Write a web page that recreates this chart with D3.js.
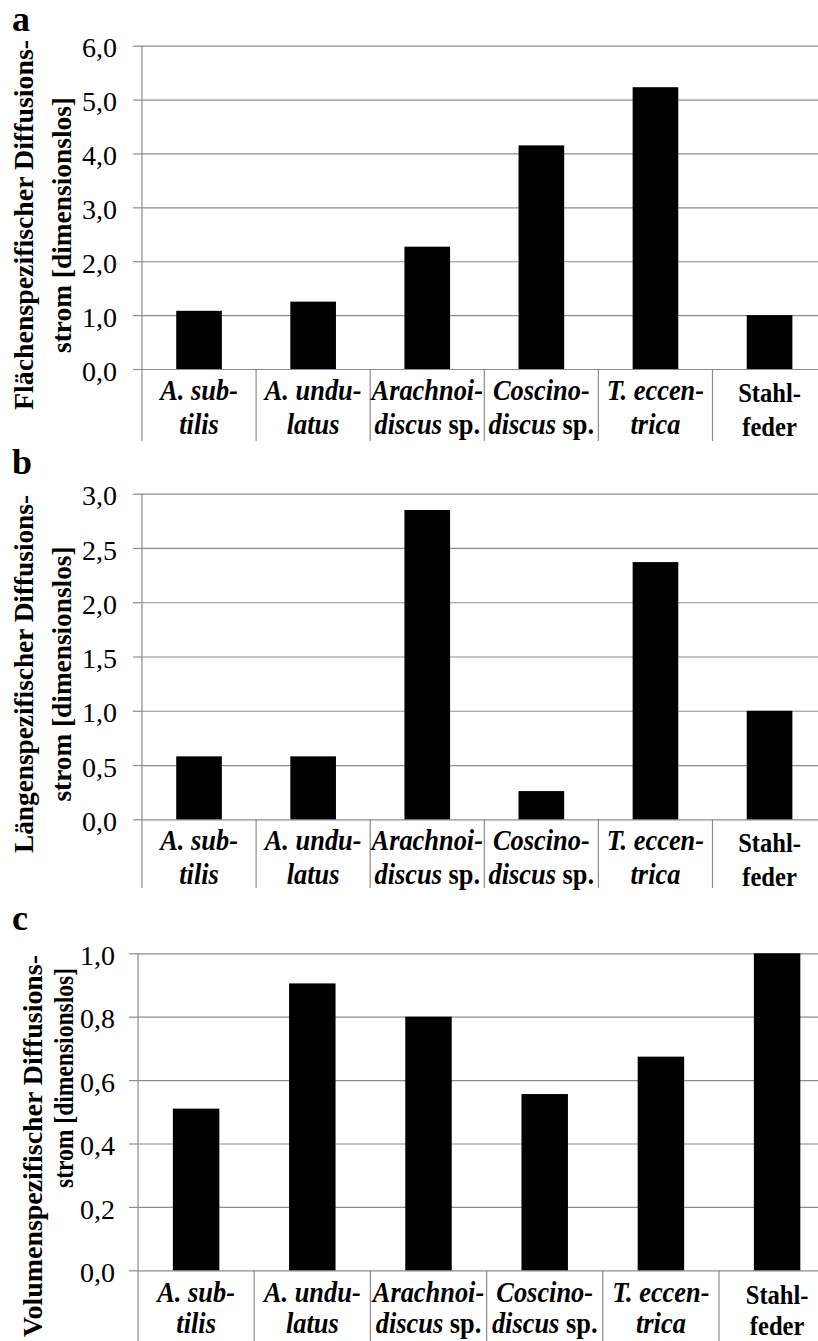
<!DOCTYPE html>
<html>
<head>
<meta charset="utf-8">
<script src="https://cdn.jsdelivr.net/npm/d3@7"></script>
<style>
  body { margin: 0; background: #fff; }
  svg { display: block; }
  text { font-family: "Liberation Serif", "Times New Roman", Times, serif; }
</style>
</head>
<body>
<svg id="chart" width="818" height="1341"></svg>
<script>
// Category labels, two lines each; every part is [text, italic]
const categoryLines = [
  [[["A. sub-", true]], [["tilis", true]]],
  [[["A. undu-", true]], [["latus", true]]],
  [[["Arachnoi-", true]], [["discus", true], [" sp.", false]]],
  [[["Coscino-", true]], [["discus", true], [" sp.", false]]],
  [[["T. eccen-", true]], [["trica", true]]],
  [[["Stahl-", false]], [["feder", false]]]
]

// values
const flaechenValues = [1.08, 1.25, 2.27, 4.15, 5.23, 1.0]
const laengenValues = [0.58, 0.58, 2.85, 0.26, 2.37, 1.0]
const volumenValues = [0.51, 0.905, 0.80, 0.556, 0.674, 1.0]

const flaechenTicks = [0, 1, 2, 3, 4, 5, 6]
const laengenTicks = [0, 0.5, 1, 1.5, 2, 2.5, 3]
const volumenTicks = [0, 0.2, 0.4, 0.6, 0.8, 1.0]

const panelLetters = ["a", "b", "c"]
const titleLines = [
  ["Flächenspezifischer Diffusions-", "strom [dimensionslos]"],
  ["Längenspezifischer Diffusions-", "strom [dimensionslos]"],
  ["Volumenspezifischer Diffusions-", "strom [dimensionslos]"]
]

const serif = "Liberation Serif"
const fmt = d3.formatLocale({decimal: ",", thousands: ".", grouping: [3], currency: ["", "€"]}).format(".1f")
const gridColor = "#8c8c8c"

// layout of the three stacked panels
const panels = [
  {values: flaechenValues, ticks: flaechenTicks, x0: 142, step: 114.1, y0: 369, yTop: 45.7, bottom: 441,
   letterY: 31, t1x: 33, t2x: 71, t1c: 225, t2c: 225, t1len: 370, t2len: 256, lab1: 31, lab2: 65, tickPad: 16},
  {values: laengenValues, ticks: laengenTicks, x0: 142, step: 114.1, y0: 819.3, yTop: 493.7, bottom: 888,
   letterY: 474, t1x: 33, t2x: 71, t1c: 674, t2c: 674, t1len: 358, t2len: 255, lab1: 31, lab2: 65, tickPad: 16},
  {values: volumenValues, ticks: volumenTicks, x0: 138, step: 116.2, y0: 1270.3, yTop: 953.3, bottom: 1341,
   letterY: 930, t1x: 42, t2x: 73, t1c: 1146, t2c: 1078, t1len: 382, t2len: 220, lab1: 32, lab2: 63, tickPad: 14}
]

const svg = d3.select("#chart").attr("font-family", serif)

panels.forEach((p, pi) => {
  const cats = d3.range(p.values.length)
  const x = d3.scaleBand(cats, [p.x0, p.x0 + p.step * cats.length]).paddingInner(0.6).paddingOuter(0.3)
  const y = d3.scaleLinear([0, d3.max(p.ticks)], [p.y0, p.yTop])
  const g = svg.append("g").attr("font-family", serif)

  // gridlines
  g.append("g")
      .attr("transform", `translate(${p.x0},0)`)
      .call(d3.axisLeft(y).tickValues(p.ticks).tickSize(-(p.step * cats.length)).tickFormat(""))
      .call(a => a.select(".domain").remove())
      .call(a => a.selectAll(".tick line").attr("stroke", gridColor).attr("stroke-width", 1.2))

  // tick marks + labels
  g.append("g")
      .attr("transform", `translate(${p.x0},0)`)
      .call(d3.axisLeft(y).tickValues(p.ticks).tickSize(9).tickPadding(p.tickPad).tickFormat(fmt))
      .attr("font-family", serif)
      .call(a => a.select(".domain").remove())
      .call(a => a.selectAll(".tick line").attr("stroke", gridColor).attr("stroke-width", 1.2))
      .call(a => a.selectAll(".tick text")
          .attr("font-size", 28)
          .attr("fill", "#000")
          .attr("dy", "0.40em"))

  // vertical axis and category dividers
  const bounds = d3.range(cats.length + 1).map(i => x.range()[0] + i * x.step())
  g.append("g").selectAll("line")
    .data(bounds)
    .join("line")
      .attr("x1", d => d).attr("x2", d => d)
      .attr("y1", (d, i) => i === 0 ? y(d3.max(p.ticks)) : y(0))
      .attr("y2", p.bottom)
      .attr("stroke", gridColor)
      .attr("stroke-width", 1.2)

  // bars
  g.append("g").selectAll("rect")
    .data(p.values)
    .join("rect")
      .attr("x", (d, i) => x(i))
      .attr("y", d => y(d))
      .attr("width", x.bandwidth())
      .attr("height", d => y(0) - y(d))
      .attr("fill", "#000")

  // category labels
  const lab = g.append("g").selectAll("g")
    .data(categoryLines)
    .join("g")
      .attr("transform", (d, i) => `translate(${x(i) + x.bandwidth() / 2},0) scale(0.91,1)`)

  lab.each(function(lines, i) {
    const upright = i === cats.length - 1
    lines.forEach((parts, li) => {
      const t = d3.select(this).append("text")
          .attr("y", p.y0 + (li === 0 ? p.lab1 : p.lab2) + (upright ? 2 : 0))
          .attr("text-anchor", "middle")
          .attr("font-family", serif)
          .attr("font-size", upright ? 27 : 29)
          .attr("font-weight", "bold")
      parts.forEach(([txt, it]) => {
        t.append("tspan")
            .attr("font-style", it ? "italic" : "normal")
            .text(txt)
      })
    })
  })

  // y title
  const tg = g.append("g")
  tg.append("text")
      .attr("transform", `translate(${p.t1x},${p.t1c}) rotate(-90)`)
      .attr("text-anchor", "middle")
      .attr("font-family", serif)
      .attr("font-size", 28)
      .attr("font-weight", "bold")
      .attr("textLength", p.t1len)
      .attr("lengthAdjust", "spacingAndGlyphs")
      .text(titleLines[pi][0])
  tg.append("text")
      .attr("transform", `translate(${p.t2x},${p.t2c}) rotate(-90)`)
      .attr("text-anchor", "middle")
      .attr("font-family", serif)
      .attr("font-size", 28)
      .attr("font-weight", "bold")
      .attr("textLength", p.t2len)
      .attr("lengthAdjust", "spacingAndGlyphs")
      .text(titleLines[pi][1])

  // panel letter
  g.append("text")
      .attr("x", 12)
      .attr("y", p.letterY)
      .attr("font-family", serif)
      .attr("font-size", 36)
      .attr("font-weight", "bold")
      .text(panelLetters[pi])
})
</script>
</body>
</html>
